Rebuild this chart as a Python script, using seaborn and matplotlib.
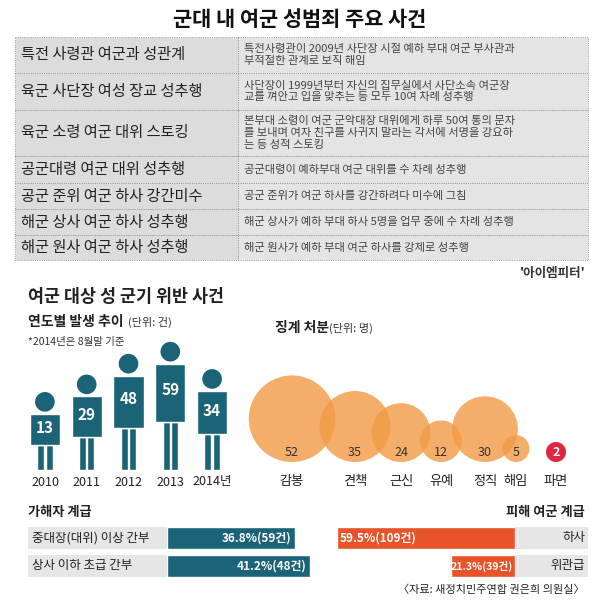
import matplotlib
matplotlib.use("Agg")
import matplotlib.pyplot as plt
from matplotlib.patches import Rectangle
import seaborn as sns
import pandas as pd
import numpy as np

sns.set_theme(style="white")
plt.rcParams['font.family'] = ['Noto Sans CJK KR', 'DejaVu Sans']

title = "군대 내 여군 성범죄 주요 사건"
case_titles = ["특전 사령관 여군과 성관계", "육군 사단장 여성 장교 성추행", "육군 소령 여군 대위 스토킹",
               "공군대령 여군 대위 성추행", "공군 준위 여군 하사 강간미수", "해군 상사 여군 하사 성추행",
               "해군 원사 여군 하사 성추행"]
case_desc = ["특전사령관이 2009년 사단장 시절 예하 부대 여군 부사관과\n부적절한 관계로 보직 해임",
             "사단장이 1999년부터 자신의 집무실에서 사단소속 여군장\n교를 껴안고 입을 맞추는 등 모두 10여 차례 성추행",
             "본부대 소령이 여군 군악대장 대위에게 하루 50여 통의 문자\n를 보내며 여자 친구를 사귀지 말라는 각서에 서명을 강요하\n는 등 성적 스토킹",
             "공군대령이 예하부대 여군 대위를 수 차례 성추행",
             "공군 준위가 여군 하사를 강간하려다 미수에 그침",
             "해군 상사가 예하 부대 하사 5명을 업무 중에 수 차례 성추행",
             "해군 원사가 예하 부대 여군 하사를 강제로 성추행"]
years = ["2010", "2011", "2012", "2013", "2014년"]
year_counts = [13, 29, 48, 59, 34]
discipline = ["감봉", "견책", "근신", "유예", "정직", "해임", "파면"]
discipline_counts = [52, 35, 24, 12, 30, 5, 2]
perp_labels = ["중대장(대위) 이상 간부", "상사 이하 초급 간부"]
perp_pct = [36.8, 41.2]
perp_cnt = [59, 48]
victim_labels = ["하사", "위관급"]
victim_pct = [59.5, 21.3]
victim_cnt = [109, 39]

W, H = 597, 602
fig = plt.figure(figsize=(W/100, H/100), dpi=100)
fig.patch.set_facecolor("white")
ax0 = fig.add_axes([0, 0, 1, 1])
ax0.set_xlim(0, W); ax0.set_ylim(H, 0); ax0.axis("off")

def px_axes(x0, y0, x1, y1):
    a = fig.add_axes([x0/W, 1-y1/H, (x1-x0)/W, (y1-y0)/H])
    a.axis("off")
    a.patch.set_alpha(0)
    return a

TEAL = "#1b6478"
ax0.text(300, 19, title, ha="center", va="center", fontsize=15, fontweight="bold", color="#111")

# table
rows = [37, 73, 110, 156, 183, 209, 235, 260]
for i in range(7):
    y0, y1 = rows[i], rows[i+1]
    ax0.add_patch(Rectangle((15, y0), 223, y1-y0, fc="#dcdcdc", ec="#888", lw=0.6, ls=":"))
    ax0.add_patch(Rectangle((238, y0), 350, y1-y0, fc="#e4e4e4", ec="#888", lw=0.6, ls=":"))
    yc = (y0+y1)/2
    ax0.text(21, yc, case_titles[i], ha="left", va="center", fontsize=11, color="#222")
    ax0.text(244, yc, case_desc[i], ha="left", va="center", fontsize=8.1, color="#444", linespacing=1.2)
ax0.text(586, 273, "'아이엠피터'", ha="right", va="center", fontsize=9, fontweight="bold", color="#333")

ax0.text(28, 297, "여군 대상 성 군기 위반 사건", ha="left", va="center", fontsize=12.5, fontweight="bold", color="#222")
ax0.text(28, 322, "연도별 발생 추이", ha="left", va="center", fontsize=10, fontweight="bold", color="#222")
ax0.text(128, 322, "(단위: 건)", ha="left", va="center", fontsize=8, color="#333")
ax0.text(28, 342, "*2014년은 8월말 기준", ha="left", va="center", fontsize=7.5, color="#333")
ax0.text(275, 328, "징계 처분", ha="left", va="center", fontsize=10, fontweight="bold", color="#222")
ax0.text(329, 328, "(단위: 명)", ha="left", va="center", fontsize=8, color="#333")

# persons
axp = px_axes(24, 330, 233, 470)
axp.set_xlim(-0.5, 4.5); axp.set_ylim(0, 140)
for i, v in enumerate(year_counts):
    h = 64 + 1.09*v
    legs = 0.45*(h-22)
    axp.bar([i-0.1, i+0.1], [legs, legs], width=0.17, color=TEAL)
    axp.bar(i, h-22-legs, bottom=legs, width=0.72, color=TEAL)
    axp.scatter([i], [h-10], s=200, color=TEAL, edgecolor="none")
    axp.text(i, legs+(h-22-legs)*0.55, str(v), ha="center", va="center", color="white", fontsize=11, fontweight="bold")
    ax0.text(45+i*41.75, 482, years[i], ha="center", va="center", fontsize=9, color="#222")

# bubbles
axb = px_axes(240, 340, 590, 470)
axb.set_xlim(240, 590); axb.set_ylim(470, 340)
bx = [292, 355, 401, 441, 485, 516, 556]
k = 6.0
for i, v in enumerate(discipline_counts):
    last = i == len(discipline_counts)-1
    r = k*np.sqrt(v)
    col = "#e0263c" if last else "#f29a45"
    al = 1.0 if last else 0.8
    rr = max(r, 10) if last else r
    yc = 452 if last else 462 - rr
    axb.scatter([bx[i]], [yc], s=(2*rr*0.72)**2, color=col, alpha=al, edgecolor="none")
    axb.text(bx[i], 452, str(v), ha="center", va="center", fontsize=9,
             color="white" if last else "#333", fontweight="bold" if last else "normal")
    ax0.text(bx[i], 481, discipline[i], ha="center", va="center", fontsize=9.5, color="#222")

# bottom bars
ax0.text(28, 512, "가해자 계급", ha="left", va="center", fontsize=9.5, fontweight="bold", color="#222")
ax0.text(585, 512, "피해 여군 계급", ha="right", va="center", fontsize=9.5, fontweight="bold", color="#222")
rowy = [538, 565.5]
for j in range(2):
    ax0.add_patch(Rectangle((28, rowy[j]-11), 139, 22, fc="#e6e6e6", ec="none"))
    ax0.text(32, rowy[j], perp_labels[j], ha="left", va="center", fontsize=9, color="#222")
    ax0.add_patch(Rectangle((515, rowy[j]-11), 73, 22, fc="#e6e6e6", ec="none"))
    ax0.text(585, rowy[j], victim_labels[j], ha="right", va="center", fontsize=9, color="#222")

axl = px_axes(167, 524, 330, 580)
dl = pd.DataFrame({"lab": perp_labels, "pct": perp_pct})
sns.barplot(data=dl, x="pct", y="lab", color=TEAL, saturation=1, width=0.79, ax=axl)
axl.set_xlim(0, 163/3.47); axl.axis("off")
for j, (p, c) in enumerate(zip(perp_pct, perp_cnt)):
    axl.text(p-1, j, f"{p}%({c}건)", ha="right", va="center", color="white", fontsize=8.5, fontweight="bold")

axr = px_axes(290, 524, 515, 580)
dr = pd.DataFrame({"lab": victim_labels, "pct": victim_pct})
sns.barplot(data=dr, x="pct", y="lab", color="#e8532a", saturation=1, width=0.79, ax=axr)
axr.set_xlim(225/3.0, 0); axr.axis("off")
for j, (p, c) in enumerate(zip(victim_pct, victim_cnt)):
    if j == 0:
        axr.text(p-1, j, f"{p}%({c}건)", ha="left", va="center", color="white", fontsize=8.5, fontweight="bold")
    else:
        axr.text(0.7, j, f"{p}%({c}건)", ha="right", va="center", color="white", fontsize=7.6, fontweight="bold")

ax0.text(585, 590, "〈자료: 새정치민주연합 권은희 의원실〉", ha="right", va="center", fontsize=8, color="#222")

fig.savefig("out.png", dpi=100)
